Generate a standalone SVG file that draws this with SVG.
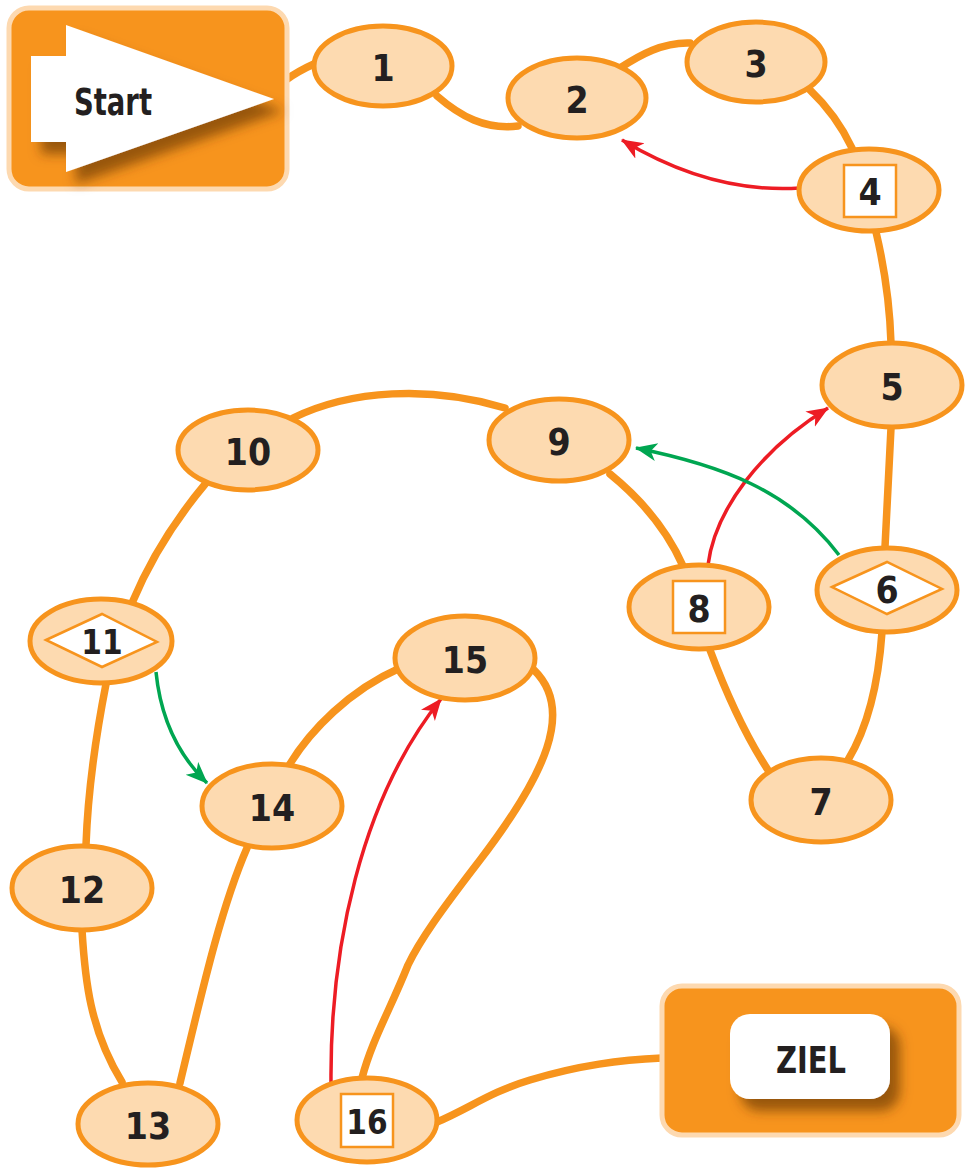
<svg xmlns="http://www.w3.org/2000/svg" width="967" height="1174" viewBox="0 0 967 1174">
<defs>
<style>
.path{fill:none;stroke:#F7941D;stroke-width:7.5;stroke-linecap:round}
.red{fill:none;stroke:#ED1C24;stroke-width:3.5}
.green{fill:none;stroke:#00A651;stroke-width:3.5}
.node ellipse{fill:#FDDAB0;stroke:#F7941D;stroke-width:5}
.inner{fill:#FFFFFF;stroke:#F7941D;stroke-width:2.5}
.lbl{font-family:"DejaVu Sans Condensed","DejaVu Sans","Liberation Sans",sans-serif;font-weight:bold;font-size:37px;fill:#231F20;text-anchor:middle;dominant-baseline:central}
.box{fill:#F7941D;stroke:#FDD9B0;stroke-width:5}
</style>
<marker id="mr" markerUnits="userSpaceOnUse" markerWidth="24" markerHeight="20" refX="21" refY="9" orient="auto">
<path d="M0,0 L22,9 L0,18 L6,9 z" fill="#ED1C24"/>
</marker>
<marker id="mg" markerUnits="userSpaceOnUse" markerWidth="24" markerHeight="20" refX="21" refY="9" orient="auto">
<path d="M0,0 L22,9 L0,18 L6,9 z" fill="#00A651"/>
</marker>
<filter id="sh" x="-20%" y="-20%" width="150%" height="160%">
<feGaussianBlur in="SourceAlpha" stdDeviation="6"/>
<feOffset dx="10" dy="12" result="b"/>
<feFlood flood-color="#5A2E00" flood-opacity="0.6"/>
<feComposite in2="b" operator="in"/>
<feMerge><feMergeNode/><feMergeNode in="SourceGraphic"/></feMerge>
</filter>
</defs>
<rect width="967" height="1174" fill="#FFFFFF"/>
<g id="connectors">
<path class="path" d="M286,80 C295,73 305,68 316,63"/>
<path class="path" d="M437,96 C460,116 485,130 518,126"/>
<path class="path" d="M620,68 C640,55 663,42 690,43"/>
<path class="path" d="M810,90 C828,107 842,127 852,148"/>
<path class="path" d="M876,232 C885,270 890,310 891,343"/>
<path class="path" d="M891,428 L885,547"/>
<path class="path" d="M882,632 C878,690 866,730 848,760"/>
<path class="path" d="M768,770 C745,735 725,690 710,650"/>
<path class="path" d="M683,566 C667,530 642,500 610,474"/>
<path class="path" d="M505,408 C430,385 350,390 293,418"/>
<path class="path" d="M206,483 C175,520 150,560 132,603"/>
<path class="path" d="M106,684 C95,740 88,790 86,845"/>
<path class="path" d="M82,930 C85,980 90,1030 122,1082"/>
<path class="path" d="M180,1083 C200,1000 220,910 247,848"/>
<path class="path" d="M288,767 C310,730 350,690 400,668"/>
<path class="path" d="M534,670 C575,710 545,775 480,860 C440,912 420,940 408,965 C390,1010 372,1040 362,1078"/>
<path class="path" d="M437,1122 C470,1108 490,1092 530,1080 C580,1065 620,1060 662,1058"/>
<path class="red" marker-end="url(#mr)" d="M800,188 C740,192 680,175 622,140"/>
<path class="red" marker-end="url(#mr)" d="M708,565 C715,510 760,450 828,408"/>
<path class="red" marker-end="url(#mr)" d="M331,1082 C330,950 360,800 441,699"/>
<path class="green" marker-end="url(#mg)" d="M839,555 C790,490 720,465 636,448"/>
<path class="green" marker-end="url(#mg)" d="M156,672 C160,712 175,752 207,783"/>
</g>
<g id="start">
<rect class="box" x="9" y="8" width="278" height="181" rx="20"/>
<path d="M31,56 L66,56 L66,25 L274,99 L66,172 L66,142 L31,142 z" fill="#FFFFFF" filter="url(#sh)"/>
<text class="lbl" x="113" y="102" textLength="78" lengthAdjust="spacingAndGlyphs">Start</text>
</g>
<g id="n1" class="node"><ellipse cx="383" cy="66" rx="69" ry="40"/><text class="lbl" x="383" y="68">1</text></g>
<g id="n2" class="node"><ellipse cx="577" cy="98" rx="69" ry="40"/><text class="lbl" x="577" y="100">2</text></g>
<g id="n3" class="node"><ellipse cx="756" cy="62" rx="69" ry="40"/><text class="lbl" x="756" y="64">3</text></g>
<g id="n4" class="node"><ellipse cx="869" cy="190" rx="70" ry="41"/><rect class="inner" x="844" y="165" width="52" height="52"/><text class="lbl" x="870" y="192">4</text></g>
<g id="n5" class="node"><ellipse cx="892" cy="385" rx="70" ry="42"/><text class="lbl" x="892" y="387">5</text></g>
<g id="n6" class="node"><ellipse cx="887" cy="590" rx="70" ry="42"/><path class="inner" d="M832,587 L887,562 L942,589 L887,614 z"/><text class="lbl" x="887" y="590">6</text></g>
<g id="n7" class="node"><ellipse cx="821" cy="800" rx="70" ry="42"/><text class="lbl" x="821" y="802">7</text></g>
<g id="n8" class="node"><ellipse cx="699" cy="607" rx="70" ry="42"/><rect class="inner" x="673" y="581" width="52" height="52"/><text class="lbl" x="699" y="609">8</text></g>
<g id="n9" class="node"><ellipse cx="559" cy="440" rx="70" ry="41"/><text class="lbl" x="559" y="442">9</text></g>
<g id="n10" class="node"><ellipse cx="248" cy="450" rx="70" ry="40"/><text class="lbl" x="248" y="452">10</text></g>
<g id="n11" class="node"><ellipse cx="101" cy="641" rx="71" ry="42"/><path class="inner" d="M46,640 L102,614 L157,642 L102,667 z"/><text class="lbl" x="102" y="642" style="font-size:33px">11</text></g>
<g id="n12" class="node"><ellipse cx="82" cy="888" rx="70" ry="42"/><text class="lbl" x="82" y="890">12</text></g>
<g id="n13" class="node"><ellipse cx="148" cy="1124" rx="70" ry="41"/><text class="lbl" x="148" y="1126">13</text></g>
<g id="n14" class="node"><ellipse cx="272" cy="806" rx="70" ry="42"/><text class="lbl" x="272" y="808">14</text></g>
<g id="n15" class="node"><ellipse cx="465" cy="658" rx="70" ry="42"/><text class="lbl" x="465" y="660">15</text></g>
<g id="n16" class="node"><ellipse cx="367" cy="1120" rx="70" ry="42"/><rect class="inner" x="341" y="1094" width="52" height="53"/><text class="lbl" x="367" y="1122" style="font-size:33px">16</text></g>
<g id="ziel">
<rect class="box" x="662" y="986" width="297" height="149" rx="20"/>
<rect x="730" y="1014" width="160" height="85" rx="20" fill="#FFFFFF" filter="url(#sh)"/>
<text class="lbl" x="811" y="1060" textLength="70" lengthAdjust="spacingAndGlyphs">ZIEL</text>
</g>
</svg>
